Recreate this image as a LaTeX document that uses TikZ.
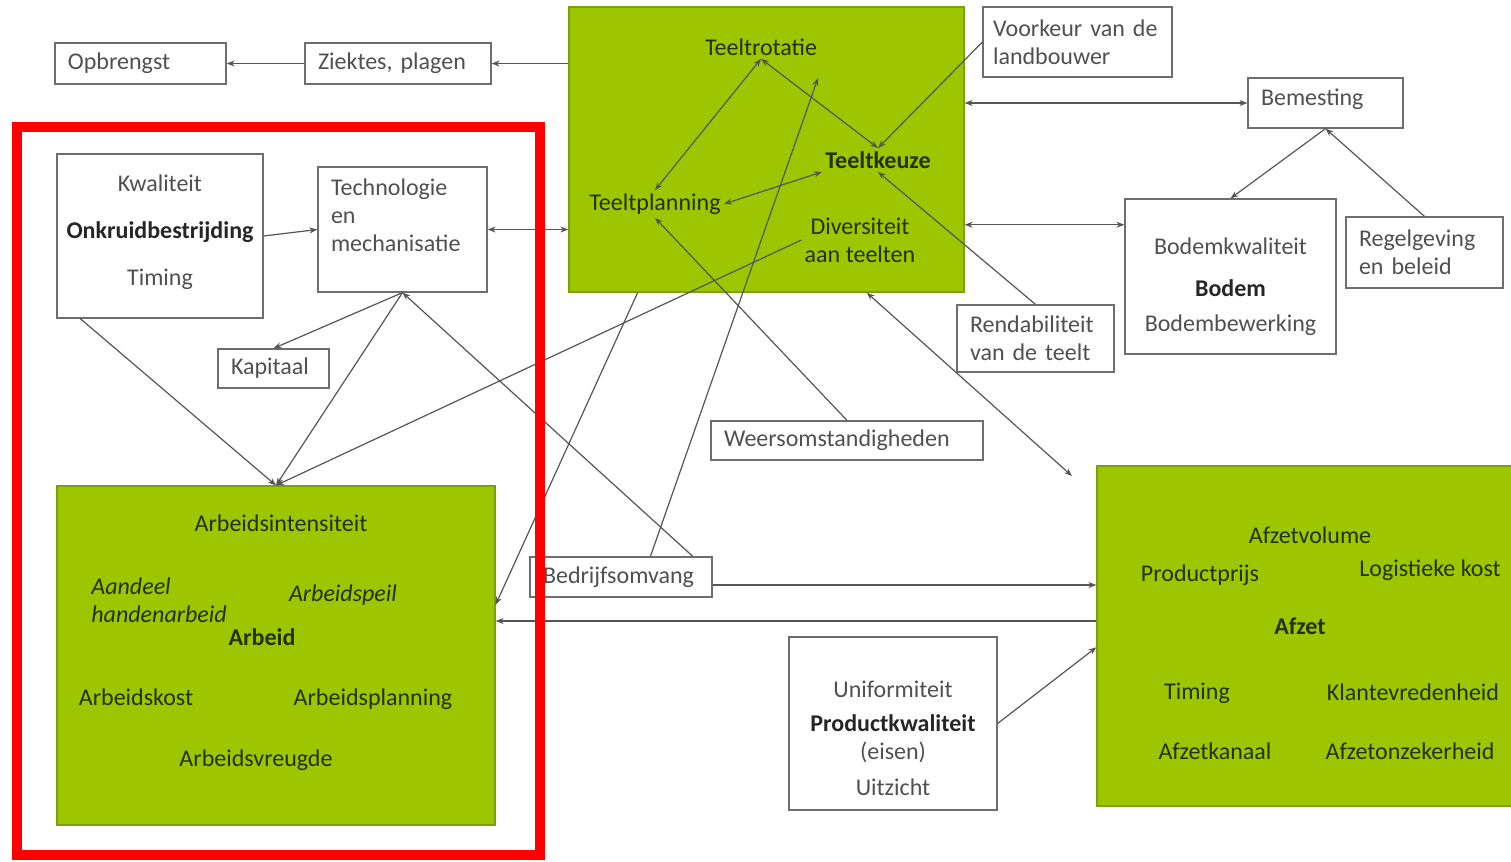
\documentclass[tikz,border=0pt]{standalone}
\usepackage{fontspec}
\setmainfont{Carlito}
\usetikzlibrary{arrows.meta}
\frenchspacing

\begin{document}
\begin{tikzpicture}[x=0.5pt,y=0.5pt,yscale=-1,xscale=1,
  every node/.style={font=\fontsize{12}{14}\selectfont},
  wbox/.style={draw={rgb,255:red,110;green,110;blue,110},line width=0.6pt,fill=white,text={rgb,255:red,80;green,80;blue,80},inner xsep=6.5pt,inner ysep=2pt},
  lbox/.style={wbox,align=left},
  cbox/.style={wbox,align=center,inner xsep=2pt},
  gbox/.style={draw={rgb,255:red,125;green,160;blue,10},line width=0.6pt,fill={rgb,255:red,157;green,198;blue,0},inner sep=0pt},
  gtxt/.style={text={rgb,255:red,35;green,50;blue,0},inner sep=1.5pt,align=center},
  conn/.style={draw={rgb,255:red,85;green,85;blue,85},line width=0.6pt,-{Stealth[length=4pt,width=3pt]}},
  dconn/.style={conn,{Stealth[length=4pt,width=3pt]}-{Stealth[length=4pt,width=3pt]}}]
\useasboundingbox (0,0) rectangle (1511,862);

%Shape: Rectangle (green blocks)
\node[gbox,minimum width=197.5pt,minimum height=142.5pt] (teelt) at (766.5,149.5) {};
\node[gbox,minimum width=219pt,minimum height=169.5pt] (arb) at (276,655.5) {};
\node[gbox,minimum width=214pt,minimum height=170pt] (afz) at (1311,636) {};

%Shape: Rectangle (white boxes)
\node[lbox,text width=72.5pt,minimum height=20.5pt] (opb) at (140.5,63.5) {Opbrengst};
\node[lbox,text width=80pt,minimum height=20.5pt] (zie) at (398,63.5) {Ziektes, plagen};
\node[lbox,inner xsep=5pt,text width=84.5pt,minimum height=35pt] (voo) at (1077.5,42) {Voorkeur van de\\landbouwer};
\node[lbox,text width=64.5pt,minimum height=25pt] (bem) at (1325.5,103) {Bemesting\\[-8pt]\mbox{}};
\node[cbox,minimum width=103pt,minimum height=82pt] (onk) at (160,236) {Kwaliteit\\[9.5pt]{\color{black!85}\textbf{Onkruidbestrijding}}\\[9.5pt]Timing\\[-8pt]\mbox{}};
\node[lbox,text width=71.5pt,minimum height=62.5pt] (tech) at (402.5,229.5) {Technologie\\en\\mechanisatie\\\mbox{}};
\node[lbox,text width=42.5pt,minimum height=19.5pt] (kap) at (273.5,368.5) {Kapitaal};
\node[cbox,minimum width=105.5pt,minimum height=77.5pt] (bod) at (1230.5,276.5) {\mbox{}\\[5pt]Bodemkwaliteit\\[7pt]{\color{black!85}\textbf{Bodem}}\\[3.5pt]Bodembewerking};
\node[lbox,text width=65.5pt,minimum height=35.5pt] (reg) at (1424.5,252.5) {Regelgeving\\en beleid};
\node[lbox,text width=65.5pt,minimum height=33.5pt] (ren) at (1035.5,338.5) {Rendabiliteit\\van de teelt};
\node[lbox,text width=123pt,minimum height=19.5pt] (wee) at (847,440.5) {Weersomstandigheden};
\node[lbox,text width=78pt,minimum height=20pt] (bed) at (621,577) {Bedrijfsomvang};
\node[cbox,minimum width=104pt,minimum height=86.5pt] (pro) at (893,723.5) {\mbox{}\\[9pt]Uniformiteit\\[3pt]{\color{black!85}\textbf{Productkwaliteit}}\\(eisen)\\[4pt]Uitzicht};

% Text Node (teelt)
\node[gtxt] (rot) at (761,47) {Teeltrotatie};
\node[gtxt] (keu) at (878,160) {\textbf{Teeltkeuze}};
\node[gtxt] (pla) at (655,204) {Teeltplanning};
\node[gtxt] (div) at (860,240) {Diversiteit\\aan teelten};
% Text Node (arbeid)
\node[gtxt] (ain) at (281,523) {Arbeidsintensiteit};
\node[gtxt,anchor=west,align=left] (aan) at (88,600) {\itshape Aandeel\\\itshape handenarbeid};
\node[gtxt] (apei) at (343,595) {\itshape Arbeidspeil};
\node[gtxt] (arbeid) at (262,637) {\textbf{Arbeid}};
\node[gtxt] (akost) at (136,697) {Arbeidskost};
\node[gtxt] (aplan) at (373,699) {Arbeidsplanning};
\node[gtxt] (avreu) at (256,760) {Arbeidsvreugde};
% Text Node (afzet)
\node[gtxt] (avol) at (1310,535) {Afzetvolume};
\node[gtxt] (aprijs) at (1200,575) {Productprijs};
\node[gtxt] (alog) at (1430,570) {Logistieke kost};
\node[gtxt] (afzet) at (1300,626) {\textbf{Afzet}};
\node[gtxt] (atim) at (1197,693) {Timing};
\node[gtxt] (aklant) at (1413,692) {Klantevredenheid};
\node[gtxt] (akan) at (1215,751) {Afzetkanaal};
\node[gtxt] (aonz) at (1410,751) {Afzetonzekerheid};

\coordinate (trin) at (818,78);
\coordinate (afzin) at (1072,476);

%Straight Lines
\draw[conn] (zie.west) -- (opb.east);
\draw[conn] (teelt.west |- zie.east) -- (zie.east);
\draw[conn] (onk.east) -- (tech.west);
\draw[dconn] (tech.east) -- (teelt.west |- tech.east);
\draw[conn] (tech.south) -- (kap.north);
\draw[conn] (tech.south) -- (arb.north);
\draw[conn] (onk.226) -- (arb.north);
\draw[conn] (bed.16) -- (tech.south);
\draw[conn] (bed.35) -- (trin);
\draw[conn] (teelt.228.6) -- (arb.13);
\draw[conn] (div.west) -- (arb.north);
\draw[conn] (wee.north) -- (pla.south);
\draw[conn] (ren.north) -- (keu.south);
\draw[conn] (voo.west) -- (keu.north);
\draw[dconn] (rot.south) -- (pla.north);
\draw[dconn] (rot.south) -- (keu.north);
\draw[dconn] (pla.east) -- (keu.south west);
\draw[dconn] (teelt.east |- bem.west) -- (bem.west);
\draw[dconn] (teelt.east |- bod.154) -- (bod.154);
\draw[conn] (bem.south) -- (bod.north);
\draw[conn] (reg.north) -- (bem.south);
\draw[dconn] (teelt.305.5) -- (afzin);
\draw[conn] (bed.-5) -- (afz.west |- bed.-5);
\draw[conn] (afz.176) -- (arb.east |- afz.176);
\draw[conn] (pro.east) -- (afz.183);

%Shape: Rectangle (red frame)
\draw[red,line width=5pt] (17,127) rectangle (540,855);

\end{tikzpicture}
\end{document}
